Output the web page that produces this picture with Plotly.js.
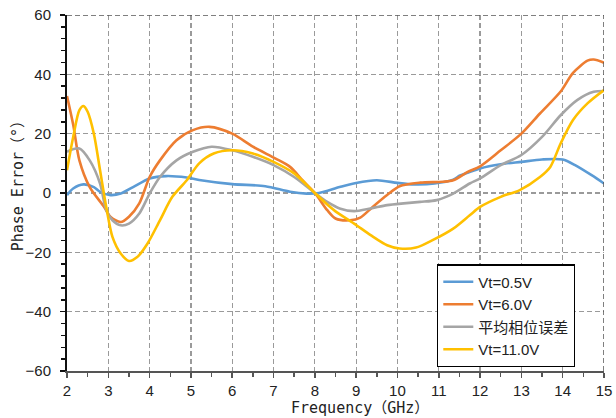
<!DOCTYPE html>
<html>
<head>
<meta charset="utf-8">
<script src="https://cdn.plot.ly/plotly-3.0.1.min.js"></script>
<style>html,body{margin:0;padding:0;background:#fff;}#chart{width:616px;height:418px;}</style>
</head>
<body>
<div id="chart"></div>
<script>
// Vt = 0.5V
const freqBlue = [2, 2.15, 2.4, 2.65, 2.8, 3.05, 3.3, 3.6, 4.0, 4.4, 4.9, 5.2, 6.0, 6.8, 7.4, 7.8, 8.1, 8.6, 9.0, 9.5, 10.0, 10.4, 10.9, 11.35, 11.5, 11.7, 12.0, 12.5, 13.0, 13.5, 14.0, 14.3, 14.7, 15];
const errBlue  = [-0.7, 1.5, 2.9, 2.0, 0.4, -0.7, -0.2, 2.0, 4.9, 5.7, 5.2, 4.4, 3.0, 2.3, 0.4, -0.2, 0, 2.0, 3.4, 4.3, 3.4, 2.9, 3.2, 4.5, 5.8, 6.8, 8.3, 9.7, 10.5, 11.3, 11.3, 9.4, 6.0, 3.2];
// Vt = 6.0V
const freqOrange = [2, 2.15, 2.3, 2.55, 2.9, 3.05, 3.3, 3.5, 3.75, 4.0, 4.25, 4.65, 5.05, 5.45, 6.0, 6.5, 7.05, 7.4, 7.7, 8.0, 8.3, 8.5, 8.85, 9.1, 9.4, 9.75, 10.05, 10.55, 11.1, 11.35, 11.7, 12.0, 12.5, 13.0, 13.45, 13.95, 14.25, 14.6, 14.75, 15];
const errOrange  = [32.7, 23, 11, 2, -4.7, -8, -9.8, -8, -3.5, 5.4, 11, 17.8, 21.2, 22.3, 20, 15.6, 11.6, 8.8, 4.3, 0, -5.8, -8.6, -9.2, -8.3, -4.7, -0.7, 2.3, 3.5, 3.8, 4.3, 7.1, 9, 14.4, 20, 26.8, 34.2, 40.5, 44.6, 45, 43.9];
// 平均相位误差
const freqGray = [2, 2.3, 2.55, 2.8, 2.95, 3.1, 3.3, 3.5, 3.75, 4.0, 4.25, 4.65, 5.05, 5.5, 6.0, 6.5, 7.0, 7.5, 8.0, 8.3, 8.6, 8.95, 9.35, 9.75, 10.15, 10.55, 10.95, 11.35, 11.75, 12.0, 12.5, 13.0, 13.5, 13.95, 14.35, 14.75, 15];
const errGray  = [13.9, 15, 11, 3.2, -5.8, -9.2, -10.9, -10.3, -6.9, -0.2, 5.4, 11, 13.9, 15.6, 14.4, 12.2, 9.4, 5.4, 0, -3, -5.2, -6.1, -5.2, -4.1, -3.5, -3, -2.4, -0.2, 3.2, 4.9, 9.4, 12.8, 18.9, 26.2, 31.3, 34.1, 34.4];
// Vt = 11.0V
const freqYellow = [2, 2.15, 2.3, 2.4, 2.5, 2.65, 2.8, 2.95, 3.1, 3.3, 3.5, 3.7, 3.95, 4.25, 4.55, 4.9, 5.2, 5.55, 6.0, 6.5, 7.0, 7.5, 8.0, 8.35, 8.5, 8.95, 9.35, 9.75, 10.05, 10.45, 10.85, 11.35, 11.75, 12.0, 12.5, 12.95, 13.45, 13.7, 13.95, 14.25, 14.6, 15];
const errYellow  = [7.7, 18.9, 27.9, 29.3, 27.4, 20, 7.7, -4.7, -14.8, -20.4, -22.9, -21.6, -17, -9.2, -1.3, 4.3, 10, 13.3, 14.4, 13.3, 10.5, 6.6, 0, -4.5, -6.2, -10.3, -14.2, -17.6, -18.7, -18.4, -15.9, -12, -7.5, -4.7, -1.3, 0.9, 5.4, 8.8, 16.7, 24.6, 30.2, 34.7];

const seriesNames = ['Vt=0.5V', 'Vt=6.0V', '平均相位误差', 'Vt=11.0V'];
const xTicks = [2, 3, 4, 5, 6, 7, 8, 9, 10, 11, 12, 13, 14, 15];
const yTicks = [-60, -40, -20, 0, 20, 40, 60];

const colors = ['#5B9BD5', '#ED7D31', '#A5A5A5', '#FFC000'];
const xs = [freqBlue, freqOrange, freqGray, freqYellow];
const ys = [errBlue, errOrange, errGray, errYellow];

const traces = xs.map((x, i) => ({
  x: x, y: ys[i], name: seriesNames[i], type: 'scatter', mode: 'lines',
  line: {color: colors[i], width: 2.6, shape: 'spline', smoothing: 0.8}
}));

const gridDash = '5px,3px';
const layout = {
  width: 616, height: 418,
  margin: {l: 67, r: 12, t: 15, b: 47},
  paper_bgcolor: '#fff', plot_bgcolor: '#fff',
  font: {family: 'Liberation Sans, Arial, sans-serif', size: 15, color: '#222'},
  showlegend: true,
  legend: {
    x: 0.689, y: 0.30, xanchor: 'left', yanchor: 'top',
    bgcolor: '#fff', bordercolor: '#000', borderwidth: 1.3,
    font: {family: 'Liberation Sans, Noto Sans CJK SC, sans-serif', size: 15, color: '#222'},
    itemwidth: 30
  },
  xaxis: {
    range: [2, 15], tickvals: xTicks, ticktext: xTicks.map(String),
    showline: true, linecolor: '#555', linewidth: 2,
    ticks: 'outside', ticklen: 5, tickcolor: '#555', tickwidth: 1.5,
    showgrid: true, gridcolor: '#9a9a9a', gridwidth: 1.2, griddash: gridDash,
    zeroline: false, fixedrange: true,
    minor: {dtick: 0.5, ticks: 'outside', ticklen: 4, tickcolor: '#555', tickwidth: 1.5, showgrid: false},
    title: {text: ''}
  },
  yaxis: {
    range: [-60, 60], tickvals: yTicks, ticktext: yTicks.map(v => v < 0 ? '\u2212' + Math.abs(v) : String(v)),
    showline: true, linecolor: '#111', linewidth: 2,
    ticks: 'outside', ticklen: 5, tickcolor: '#111', tickwidth: 1.5,
    showgrid: true, gridcolor: '#9a9a9a', gridwidth: 1.2, griddash: gridDash,
    zeroline: false, fixedrange: true, ticklabelstandoff: 6,
    minor: {dtick: 4, ticks: 'outside', ticklen: 4, tickcolor: '#111', tickwidth: 1.5, showgrid: false},
    title: {text: ''}
  },
  shapes: [
    {type: 'line', xref: 'x', yref: 'y', x0: 2, x1: 15, y0: 60, y1: 60, line: {color: '#555', width: 1.5, dash: gridDash}},
    {type: 'line', xref: 'x', yref: 'y', x0: 15, x1: 15, y0: -60, y1: 60, line: {color: '#555', width: 1.5, dash: gridDash}}
  ],
  annotations: [
    {text: 'Frequency（GHz）', xref: 'paper', yref: 'paper', x: 0.546, y: 0, yshift: -26, xanchor: 'center', yanchor: 'top', showarrow: false,
     font: {family: 'DejaVu Sans Mono, Noto Sans CJK SC, monospace', size: 15, color: '#222'}},
    {text: 'Phase Error（°）', xref: 'paper', yref: 'paper', x: 0, xshift: -49, y: 0.53, xanchor: 'center', yanchor: 'middle', textangle: -90, showarrow: false,
     font: {family: 'DejaVu Sans Mono, Noto Sans CJK SC, monospace', size: 15, color: '#222'}}
  ]
};

Plotly.newPlot('chart', traces, layout, {displayModeBar: false, staticPlot: true});
</script>
</body>
</html>
